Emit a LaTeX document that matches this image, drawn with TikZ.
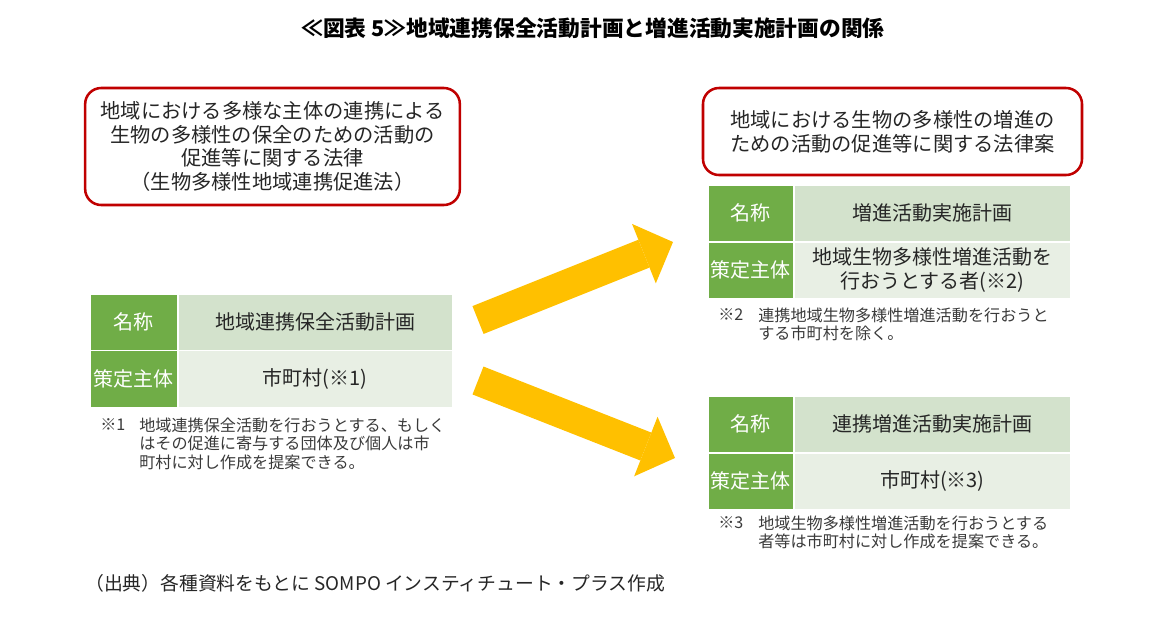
\documentclass[tikz,border=0pt]{standalone}
\usepackage{fontspec}
\setmainfont{Noto Sans CJK JP}
\usetikzlibrary{arrows.meta,positioning}

\definecolor{lawred}{HTML}{C00000}
\definecolor{headgreen}{HTML}{70AD47}
\definecolor{rowone}{HTML}{D3E2CC}
\definecolor{rowtwo}{HTML}{E8EFE4}
\definecolor{flowyellow}{HTML}{FFC000}
\definecolor{inkgray}{HTML}{262626}
\definecolor{notegray}{HTML}{3A3A3A}

\tikzset{
	lawbox/.style={draw=lawred,line width=1.9pt,rounded corners=12pt,fill=white,text=inkgray,align=center,inner sep=0pt,font=\fontsize{15.2}{17.6}\selectfont},
	headcell/.style={anchor=north west,fill=headgreen,draw=white,line width=1.2pt,text=white,inner sep=0pt,minimum height=42.75pt,font=\fontsize{15}{18}\selectfont},
	namecell/.style={anchor=north west,fill=rowone,draw=white,line width=1.2pt,text=inkgray,align=center,inner sep=0pt,minimum height=42.75pt,font=\fontsize{15}{18}\selectfont},
	bodycell/.style={namecell,fill=rowtwo},
	notemark/.style={anchor=north west,inner sep=0pt,text=notegray,font=\fontsize{12.1}{13.6}\selectfont},
	notetext/.style={notemark,align=left},
	flow/.style={draw=flowyellow,line width=22.5pt,-{Triangle[length=23.5pt,width=48pt,line width=0pt]}}
}

\begin{document}
\begin{tikzpicture}[x=0.75pt,y=-0.75pt]
	\useasboundingbox (0,0) rectangle (1160,622);

	\node (title) at (593,28) {\fontsize{16.3}{19}\selectfont\bfseries ≪図表 5≫地域連携保全活動計画と増進活動実施計画の関係};

	% left: current law and its plan
	\node[lawbox,minimum width=281pt,minimum height=87.75pt] (lawL) at (272.5,146.5) {地域における多様な主体の連携による\\生物の多様性の保全のための活動の\\促進等に関する法律\\（生物多様性地域連携促進法）};

	\node[headcell,minimum width=66pt] (nameL) at (89,293) {名称};
	\node[namecell,minimum width=206.25pt] (planL) at (177,293) {地域連携保全活動計画};
	\node[headcell,minimum width=66pt] (bodyL) at (89,349.5) {策定主体};
	\node[bodycell,minimum width=206.25pt] (whoL) at (177,349.5) {市町村(※1)};

	\node[notemark] (markL) at (100,418) {※1};
	\node[notetext] (noteL) at (139,418) {地域連携保全活動を行おうとする、もしく\\はその促進に寄与する団体及び個人は市\\町村に対し作成を提案できる。};

	% right: bill and its two plans
	\node[lawbox,minimum width=284.25pt,minimum height=65.25pt,font=\fontsize{15.2}{18}\selectfont] (lawR) at (892.5,131.5) {地域における生物の多様性の増進の\\ための活動の促進等に関する法律案};

	\node[headcell,minimum width=64.5pt] (nameA) at (707,184) {名称};
	\node[namecell,minimum width=207.75pt] (planA) at (793,184) {増進活動実施計画};
	\node[headcell,minimum width=64.5pt] (bodyA) at (707,241) {策定主体};
	\node[bodycell,minimum width=207.75pt] (whoA) at (793,241) {地域生物多様性増進活動を\\行おうとする者(※2)};

	\node[notemark] (markA) at (718,308) {※2};
	\node[notetext] (noteA) at (758,308) {連携地域生物多様性増進活動を行おうと\\する市町村を除く。};

	\node[headcell,minimum width=64.5pt] (nameB) at (707,395) {名称};
	\node[namecell,minimum width=207.75pt] (planB) at (793,395) {連携増進活動実施計画};
	\node[headcell,minimum width=64.5pt] (bodyB) at (707,452) {策定主体};
	\node[bodycell,minimum width=207.75pt] (whoB) at (793,452) {市町村(※3)};

	\node[notemark] (markB) at (718,516) {※3};
	\node[notetext] (noteB) at (758,516) {地域生物多様性増進活動を行おうとする\\者等は市町村に対し作成を提案できる。};

	% arrows
	\coordinate (upS) at (478,320);
	\coordinate (upE) at (673,242);
	\coordinate (downS) at (478,380.5);
	\coordinate (downE) at (675,458);
	\draw[flow] (upS) -- (upE);
	\draw[flow] (downS) -- (downE);

	\node[anchor=west,inner sep=0pt,text=inkgray,font=\fontsize{14.1}{16}\selectfont] (source) at (85,583) {（出典）各種資料をもとに SOMPO インスティチュート・プラス作成};
\end{tikzpicture}
\end{document}
